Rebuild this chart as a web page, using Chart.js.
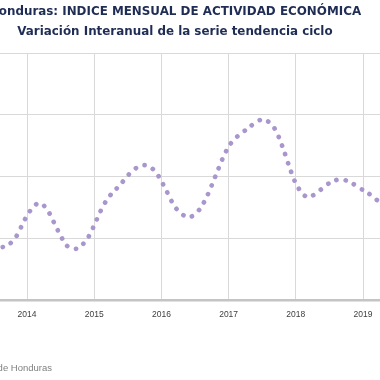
<!DOCTYPE html>
<html>
<head>
<meta charset="utf-8">
<script src="https://cdn.jsdelivr.net/npm/chart.js@4"></script>
<style>
  html, body { margin:0; padding:0; background:#fff; overflow:hidden; width:380px; height:380px; }
  #wrap { position:absolute; left:-40px; top:0; width:434px; height:380px; }
</style>
</head>
<body>
<div id="wrap"><canvas id="imaeChart" width="434" height="380"></canvas></div>
<script>
  // IMAE Honduras - variacion interanual, serie tendencia ciclo (%)
  const periodos = [
    '2013-07','2013-08','2013-09','2013-10','2013-11','2013-12',
    '2014-01','2014-02','2014-03','2014-04','2014-05','2014-06','2014-07','2014-08','2014-09','2014-10','2014-11','2014-12',
    '2015-01','2015-02','2015-03','2015-04','2015-05','2015-06','2015-07','2015-08','2015-09','2015-10','2015-11','2015-12',
    '2016-01','2016-02','2016-03','2016-04','2016-05','2016-06','2016-07','2016-08','2016-09','2016-10','2016-11','2016-12',
    '2017-01','2017-02','2017-03','2017-04','2017-05','2017-06','2017-07','2017-08','2017-09','2017-10','2017-11','2017-12',
    '2018-01','2018-02','2018-03','2018-04','2018-05','2018-06','2018-07','2018-08','2018-09','2018-10','2018-11','2018-12',
    '2019-01','2019-02','2019-03','2019-04','2019-05'
  ];
  const variacion = [
    1.73, 1.70, 1.73, 1.83, 2.03, 2.38,
    2.74, 2.99, 3.14, 3.06, 2.81, 2.44, 2.08, 1.78, 1.65, 1.67, 1.81, 2.05,
    2.42, 2.83, 3.17, 3.42, 3.61, 3.81, 4.03, 4.21, 4.33, 4.37, 4.31, 4.15,
    3.85, 3.50, 3.14, 2.88, 2.74, 2.68, 2.77, 2.98, 3.30, 3.72, 4.17, 4.61,
    4.97, 5.21, 5.36, 5.50, 5.64, 5.78, 5.85, 5.79, 5.62, 5.26, 4.77, 4.23,
    3.77, 3.48, 3.33, 3.38, 3.51, 3.65, 3.79, 3.87, 3.92, 3.87, 3.79, 3.67,
    3.56, 3.45, 3.32, 3.14, 2.91
  ];
  const anios = [2014, 2015, 2016, 2017, 2018, 2019];
  const titulo = ['Honduras: INDICE MENSUAL DE ACTIVIDAD ECONÓMICA', 'Variación Interanual de la serie tendencia ciclo'];
  const fuente = 'Fuente: Banco Central de Honduras';

  // periodo 'YYYY-MM' -> año decimal
  const toX = p => { const [y, m] = p.split('-').map(Number); return y + (m - 1) / 12; };
  const puntos = periodos.map((p, i) => ({ x: toX(p), y: variacion[i] }));

  const fuentePlugin = {
    id: 'fuente',
    afterDraw(chart) {
      const c = chart.ctx;
      c.save();
      c.font = '9.5px "Liberation Sans", Arial, sans-serif';
      c.fillStyle = '#7f7f7f';
      c.textAlign = 'right';
      c.textBaseline = 'middle';
      c.fillText(fuente, 92, 368);
      c.restore();
    }
  };

  new Chart(document.getElementById('imaeChart'), {
    type: 'line',
    data: {
      datasets: [{
        data: puntos,
        borderColor: '#a896cc',
        borderWidth: 4.7,
        borderDash: [0.1, 9.2],
        borderCapStyle: 'round',
        borderJoinStyle: 'round',
        pointRadius: 0,
        tension: 0.2,
        fill: false
      }]
    },
    options: {
      responsive: false,
      animation: false,
      layout: { padding: { left: 0, right: 4.1, top: 0, bottom: 0 } },
      plugins: {
        legend: { display: false },
        tooltip: { enabled: false },
        title: {
          display: true,
          text: titulo,
          color: '#1f2d55',
          font: { family: '"DejaVu Sans", sans-serif', size: 11.9, weight: 'bold', lineHeight: '20px' },
          padding: { top: 2, bottom: 11 }
        }
      },
      scales: {
        x: {
          type: 'linear',
          min: 2013.5,
          max: 2019.4,
          afterFit: s => { s.height = 80; },
          afterBuildTicks: s => { s.ticks = anios.map(v => ({ value: v })); },
          grid: { color: '#d9d9d9', lineWidth: 1, drawTicks: false },
          border: { color: '#c4c4c4', width: 2.5 },
          ticks: {
            padding: 10,
            maxRotation: 0,
            autoSkip: false,
            color: '#404040',
            font: { family: '"Liberation Sans", Arial, sans-serif', size: 8.5 },
            callback: v => String(v)
          }
        },
        y: {
          min: 0,
          max: 8,
          afterFit: s => { s.width = 33.4; },
          grid: { color: '#d9d9d9', lineWidth: 1, drawTicks: false },
          border: { display: false },
          ticks: { stepSize: 2, display: false }
        }
      }
    },
    plugins: [fuentePlugin]
  });
</script>
</body>
</html>
